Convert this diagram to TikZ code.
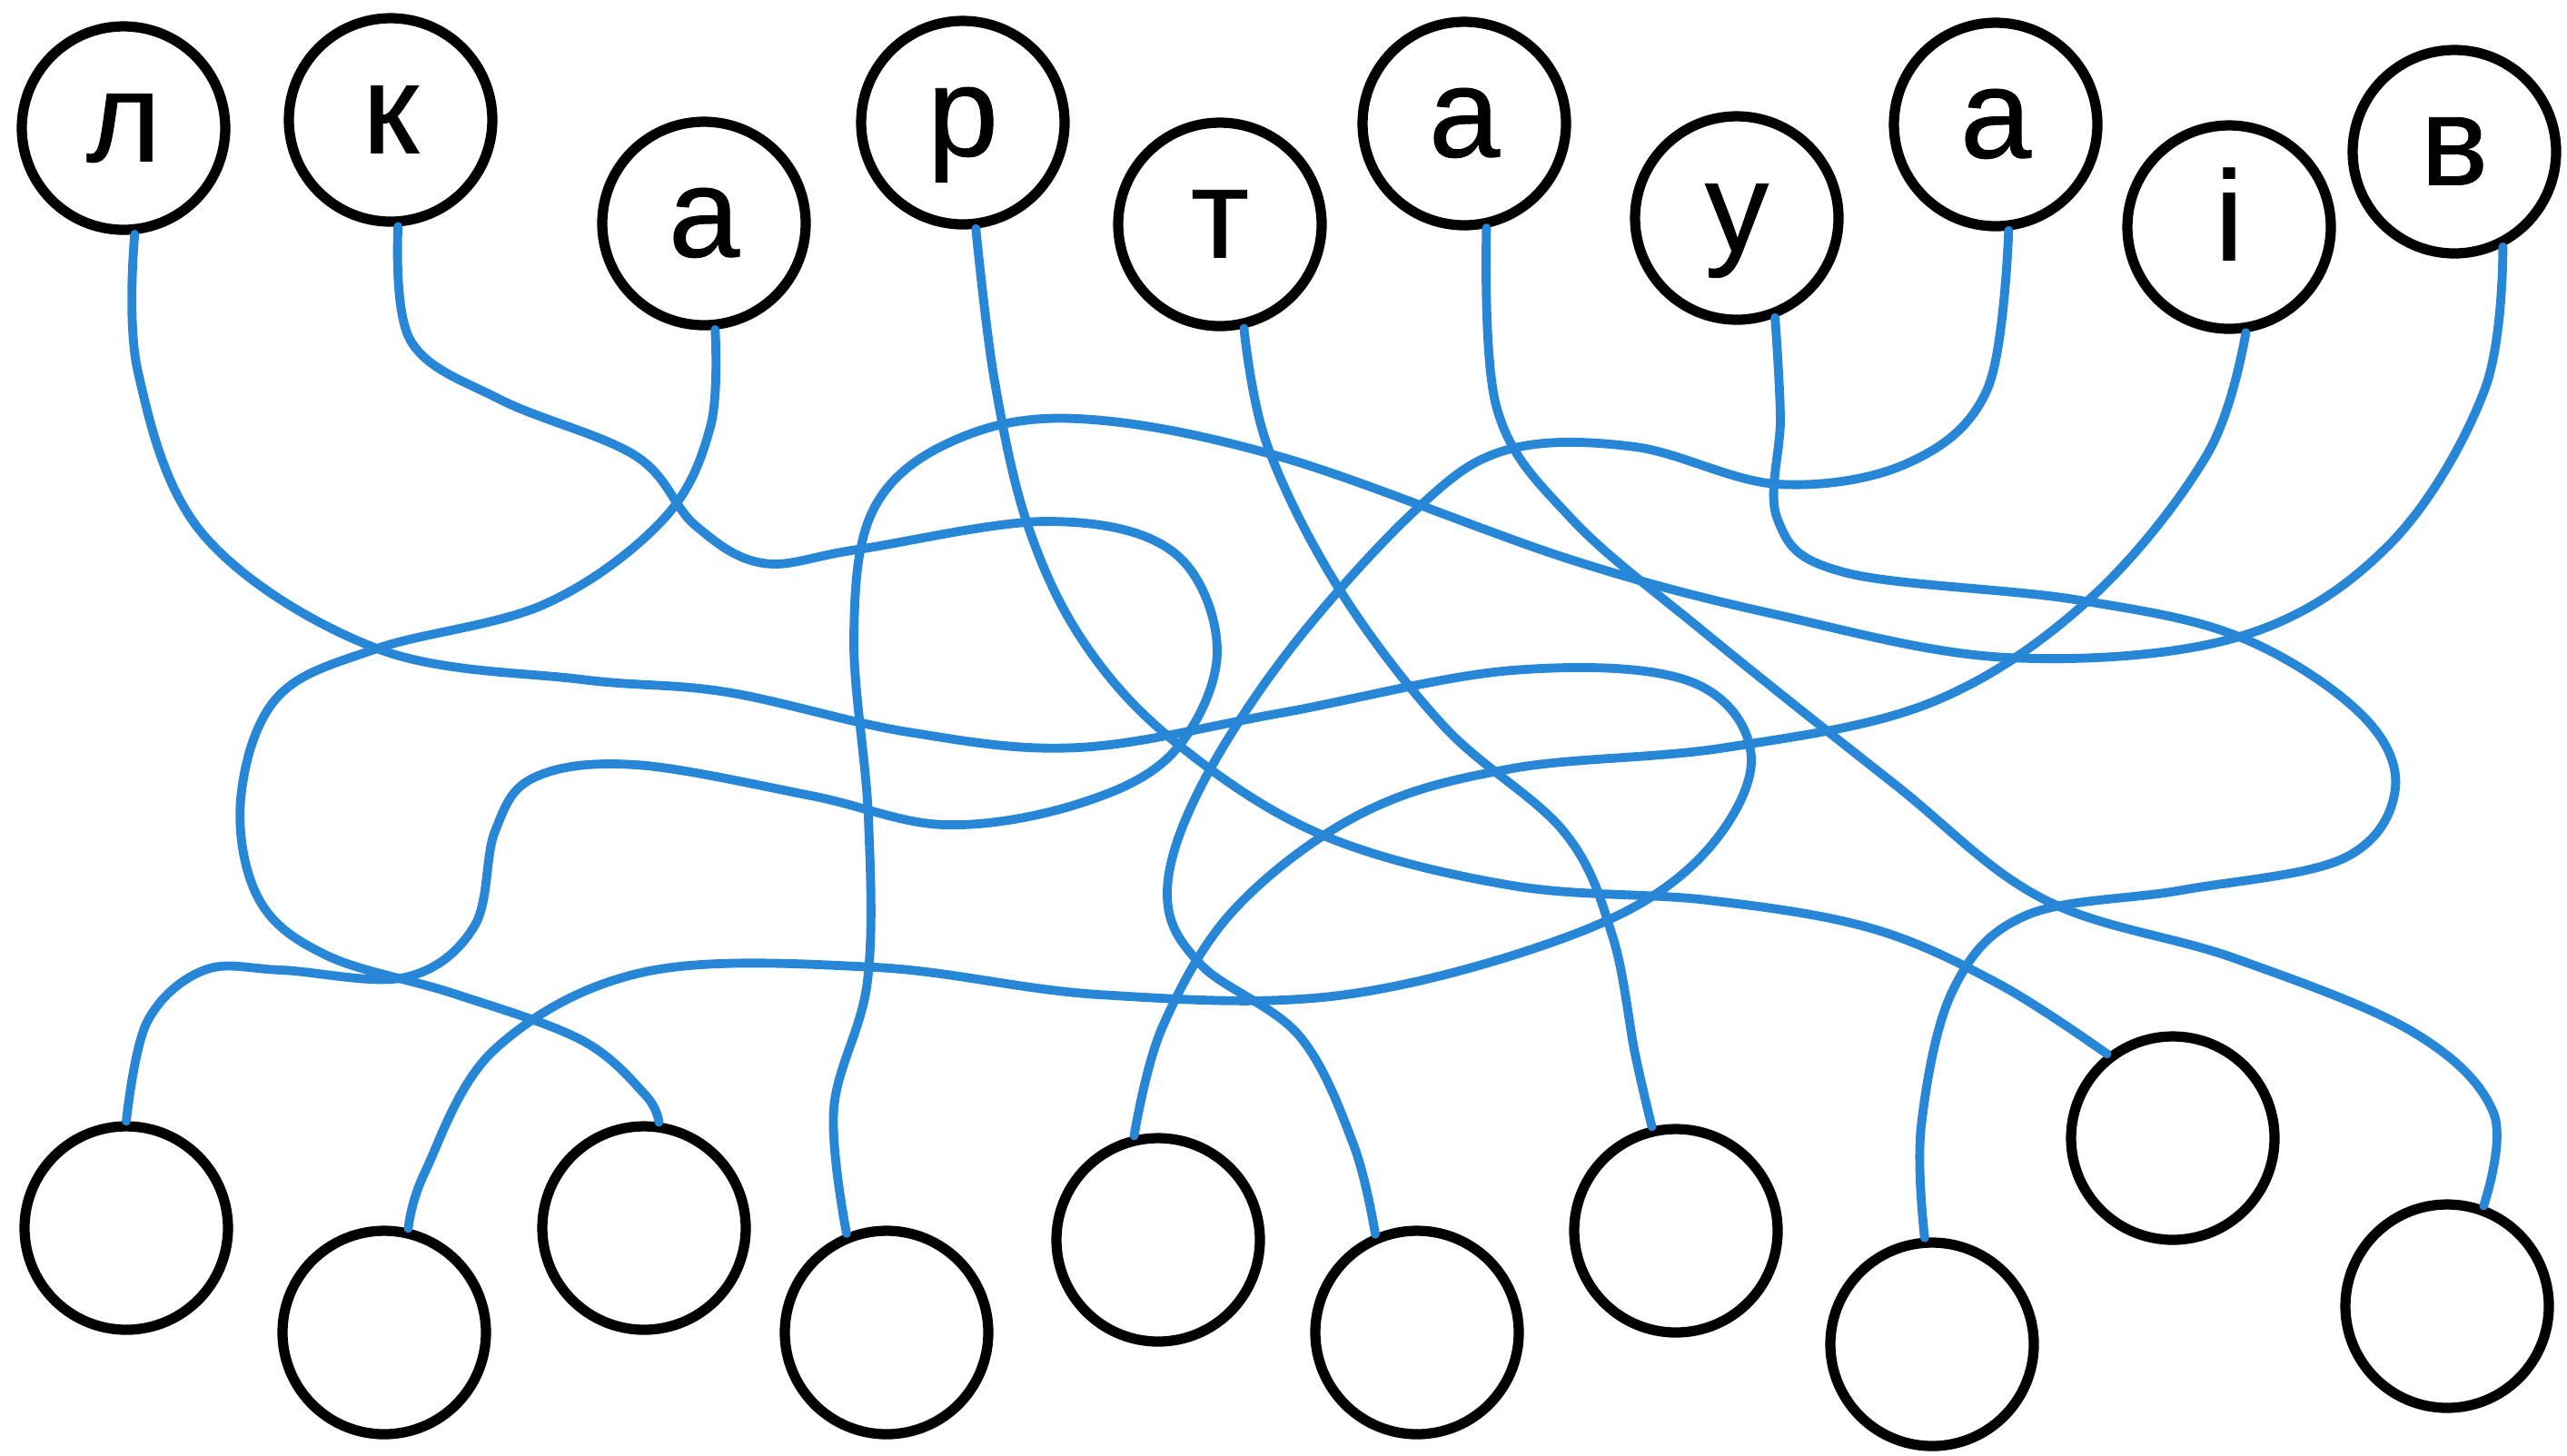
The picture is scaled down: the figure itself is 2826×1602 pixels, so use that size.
\documentclass[tikz,border=0pt]{standalone}
\usepackage{fontspec}
\setmainfont{Liberation Sans}
\newfontfamily\letterfont[FakeBold=0.6]{Liberation Sans}
\definecolor{wireblue}{RGB}{40,134,214}
\tikzset{
  letter/.style={circle, draw=black, line width=3.2pt, minimum size=22.4mm,
    inner sep=0pt, font=\letterfont\fontsize{40}{46}\selectfont,
    text height=20.8pt, text depth=0pt},
  slot/.style={circle, draw=black, line width=3.2pt, minimum size=22.4mm, inner sep=0pt},
  wire/.style={draw=wireblue, line width=2.8pt, line cap=round, line join=round}
}
\begin{document}
\begin{tikzpicture}[x=0.1mm, y=-0.1mm]
\fill[white] (0,0) rectangle (2826,1602);
\useasboundingbox (0,0) rectangle (2826,1602);

% letters in the top row
\node[letter] (t1)  at (136,141)  {л};
\node[letter] (t2)  at (430,132)  {к};
\node[letter] (t3)  at (775,246)  {а};
\node[letter] (t4)  at (1060,135) {р};
\node[letter] (t5)  at (1343,247) {т};
\node[letter] (t6)  at (1612,136) {а};
\node[letter] (t7)  at (1912,240) {у};
\node[letter] (t8)  at (2197,137) {а};
\node[letter] (t9)  at (2454,250) {і};
\node[letter] (t10) at (2702,167) {в};

% empty circles in the bottom row
\node[slot] (b1)  at (139,1352)  {};
\node[slot] (b2)  at (423,1467)  {};
\node[slot] (b3)  at (709,1352)  {};
\node[slot] (b4)  at (976,1467)  {};
\node[slot] (b5)  at (1275,1365) {};
\node[slot] (b6)  at (1560,1467) {};
\node[slot] (b7)  at (1845,1355) {};
\node[slot] (b8)  at (2127,1480) {};
\node[slot] (b9)  at (2392,1253) {};
\node[slot] (b10) at (2694,1438) {};

% tangled strings
\begin{scope}[every path/.append style={wire}]
\draw plot[smooth, tension=0.6] coordinates {(t1.-84) (152,410) (225,590) (415,714) (640,748) (800,762) (1000,806) (1187,823) (1410,785) (1665,738) (1860,750) (1928,835) (1868,948) (1729,1030) (1474,1096) (1210,1095) (964,1065) (710,1070) (545,1155) (468,1290) (b2.77)};

\draw plot[smooth, tension=0.6] coordinates {(t2.-86) (452,375) (551,440) (700,502) (765,578) (840,620) (944,605) (1155,574) (1292,608) (1340,717) (1292,828) (1187,885) (1040,908) (893,876) (700,842) (588,856) (545,915) (522,1020) (446,1076) (310,1068) (225,1068) (162,1125) (b1.90)};

\draw plot[smooth, tension=0.6] coordinates {(t3.-84) (782,470) (730,572) (600,665) (415,714) (305,768) (265,880) (285,990) (360,1052) (500,1094) (640,1145) (710,1205) (b3.82)};

\draw plot[smooth, tension=0.6] coordinates {(t4.-83) (1095,420) (1132,580) (1195,710) (1295,818) (1455,919) (1665,975) (1880,991) (2060,1022) (2200,1083) (b9.128)};

\draw plot[smooth, tension=0.6] coordinates {(t5.-77) (1395,490) (1474,648) (1590,800) (1722,916) (1775,1030) (1800,1160) (b7.103)};

\draw plot[smooth, tension=0.6] coordinates {(t6.-78) (1648,450) (1729,570) (1875,695) (2084,862) (2250,990) (2460,1055) (2656,1136) (2745,1225) (b10.70)};

\draw plot[smooth, tension=0.6] coordinates {(t7.-69) (1960,460) (1957,572) (2030,630) (2284,660) (2465,701) (2598,785) (2637,868) (2580,945) (2402,980) (2230,1008) (2150,1090) (2115,1240) (b8.94)};

\draw plot[smooth, tension=0.6] coordinates {(t8.-83) (2188,428) (2100,510) (1957,533) (1800,492) (1660,495) (1560,560) (1420,715) (1320,870) (1285,985) (1322,1062) (1430,1140) (1490,1260) (b6.113)};

\draw plot[smooth, tension=0.6] coordinates {(t9.-81) (2430,500) (2300,660) (2127,773) (1900,823) (1665,846) (1500,895) (1360,1000) (1280,1130) (b5.103)};

\draw plot[smooth, tension=0.6] coordinates {(t10.-63) (2735,430) (2630,600) (2465,701) (2211,724) (1957,677) (1729,616) (1410,503) (1187,461) (1050,485) (962,560) (940,700) (956,900) (955,1080) (918,1220) (b4.112)};
\end{scope}
\end{tikzpicture}
\end{document}
